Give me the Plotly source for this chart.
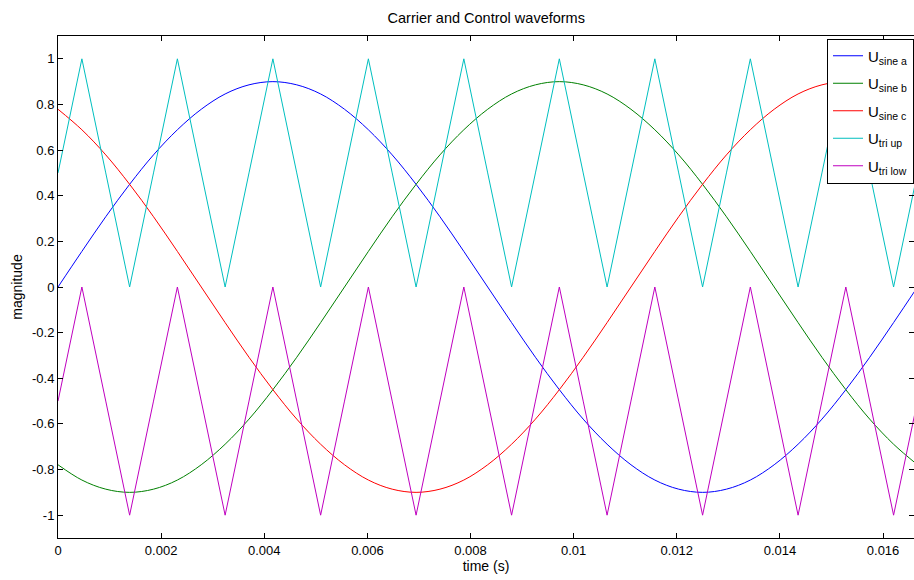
import plotly.graph_objects as go

# time samples (s), every 1/2160 s over one 60 Hz period
time_s = [0.0, 0.000463, 0.000926, 0.001389, 0.001852, 0.002315, 0.002778, 0.003241,
          0.003704, 0.004167, 0.004630, 0.005093, 0.005556, 0.006019, 0.006481, 0.006944,
          0.007407, 0.007870, 0.008333, 0.008796, 0.009259, 0.009722, 0.010185, 0.010648,
          0.011111, 0.011574, 0.012037, 0.012500, 0.012963, 0.013426, 0.013889, 0.014352,
          0.014815, 0.015278, 0.015741, 0.016204, 0.016667]

u_sine_a = [0.0, 0.156, 0.308, 0.45, 0.579, 0.689, 0.779, 0.846, 0.886, 0.9, 0.886, 0.846,
            0.779, 0.689, 0.579, 0.45, 0.308, 0.156, 0.0, -0.156, -0.308, -0.45, -0.579, -0.689,
            -0.779, -0.846, -0.886, -0.9, -0.886, -0.846, -0.779, -0.689, -0.579, -0.45, -0.308,
            -0.156, 0.0]
u_sine_b = [-0.779, -0.846, -0.886, -0.9, -0.886, -0.846, -0.779, -0.689, -0.579, -0.45,
            -0.308, -0.156, 0.0, 0.156, 0.308, 0.45, 0.579, 0.689, 0.779, 0.846, 0.886, 0.9,
            0.886, 0.846, 0.779, 0.689, 0.579, 0.45, 0.308, 0.156, 0.0, -0.156, -0.308, -0.45,
            -0.579, -0.689, -0.779]
u_sine_c = [0.779, 0.689, 0.579, 0.45, 0.308, 0.156, 0.0, -0.156, -0.308, -0.45, -0.579,
            -0.689, -0.779, -0.846, -0.886, -0.9, -0.886, -0.846, -0.779, -0.689, -0.579, -0.45,
            -0.308, -0.156, 0.0, 0.156, 0.308, 0.45, 0.579, 0.689, 0.779, 0.846, 0.886, 0.9,
            0.886, 0.846, 0.779]
u_tri_up = [0.5, 1, 0.5, 0, 0.5, 1, 0.5, 0, 0.5, 1, 0.5, 0, 0.5, 1, 0.5, 0, 0.5, 1, 0.5,
            0, 0.5, 1, 0.5, 0, 0.5, 1, 0.5, 0, 0.5, 1, 0.5, 0, 0.5, 1, 0.5, 0, 0.5]
u_tri_low = [-0.5, 0, -0.5, -1, -0.5, 0, -0.5, -1, -0.5, 0, -0.5, -1, -0.5, 0, -0.5, -1,
             -0.5, 0, -0.5, -1, -0.5, 0, -0.5, -1, -0.5, 0, -0.5, -1, -0.5, 0, -0.5, -1,
             -0.5, 0, -0.5, -1, -0.5]

series = [
    ("U<sub>sine a</sub>", u_sine_a, "#0000FF", "spline"),
    ("U<sub>sine b</sub>", u_sine_b, "#008000", "spline"),
    ("U<sub>sine c</sub>", u_sine_c, "#FF0000", "spline"),
    ("U<sub>tri up</sub>", u_tri_up, "#00BFBF", "linear"),
    ("U<sub>tri low</sub>", u_tri_low, "#BF00BF", "linear"),
]

x_ticks = [0, 0.002, 0.004, 0.006, 0.008, 0.01, 0.012, 0.014, 0.016]
x_tick_text = ["0", "0.002", "0.004", "0.006", "0.008", "0.01", "0.012", "0.014", "0.016"]
y_ticks = [-1, -0.8, -0.6, -0.4, -0.2, 0, 0.2, 0.4, 0.6, 0.8, 1]
y_tick_text = ["-1", "-0.8", "-0.6", "-0.4", "-0.2", "0", "0.2", "0.4", "0.6", "0.8", "1"]

fig = go.Figure()
for i, (name, vals, color, shape) in enumerate(series):
    fig.add_trace(go.Scatter(x=time_s, y=vals, name=name, mode="lines",
                             line=dict(color=color, width=1, shape=shape),
                             legendgroup="g%d" % i))

font_family = "Liberation Sans, Arial, sans-serif"
fig.update_layout(
    width=914, height=580,
    margin=dict(l=58, r=0, t=36, b=42),
    paper_bgcolor="white", plot_bgcolor="white",
    font=dict(family=font_family, size=13, color="black"),
    title=dict(text="Carrier and Control waveforms", x=0.532, xanchor="center",
               y=0.969, yanchor="middle", font=dict(size=14.5)),
    showlegend=True,
    legend=dict(x=1, xanchor="right", y=0.995, yanchor="top",
                bgcolor="white", bordercolor="black", borderwidth=1,
                font=dict(size=15), itemwidth=30, tracegroupgap=5,
                traceorder="grouped"),
    xaxis=dict(range=[0, 0.0166], tickvals=x_ticks, ticktext=x_tick_text,
               ticks="inside", ticklen=5, tickcolor="black", showgrid=False,
               zeroline=False, showline=True, linecolor="black", linewidth=1,
               mirror="ticks", title=dict(text="time (s)", standoff=2, font=dict(size=14)),
               tickfont=dict(size=13)),
    yaxis=dict(range=[-1.1, 1.1], tickvals=y_ticks, ticktext=y_tick_text,
               ticks="inside", ticklen=5, tickcolor="black", showgrid=False,
               zeroline=False, showline=True, linecolor="black", linewidth=1,
               mirror="ticks", title=dict(text="magnitude", standoff=6, font=dict(size=14)),
               tickfont=dict(size=13)),
)

fig.write_html("out.html")
